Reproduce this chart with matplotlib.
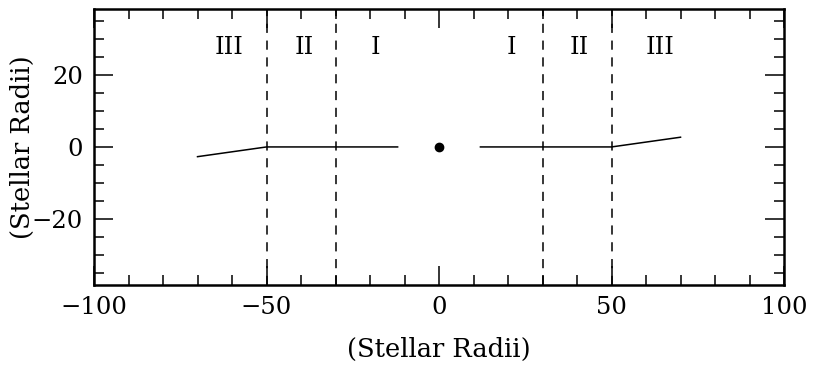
import matplotlib.pyplot as plt
import numpy as np
from matplotlib.ticker import MultipleLocator

# Disk surface profile (x, y in stellar radii)
left_x = [-70, -50, -12]
left_y = [-2.7, 0, 0]
right_x = [12, 50, 70]
right_y = [0, 0, 2.7]

# Zone boundaries and labels
boundaries = [-50, -30, 30, 50]
zone_x = [-61, -39, -18.5, 21, 40.5, 64]
zone_labels = ["III", "II", "I", "I", "II", "III"]
zone_y = 27.5

plt.rcParams['font.family'] = ['DejaVu Serif']

fig = plt.figure(figsize=(8.19, 3.72), dpi=100)
ax = fig.add_axes([0.1148, 0.234, 0.8425, 0.742])

ax.plot(left_x, left_y, color="black", lw=1.1)
ax.plot(right_x, right_y, color="black", lw=1.1)
ax.plot([0], [0], "o", color="black", ms=6)

for b in boundaries:
    ax.axvline(b, color="black", lw=1.1, ls=(0, (6, 5)))

for x, lab in zip(zone_x, zone_labels):
    ax.text(x, zone_y, lab, ha="center", va="center", fontsize=17.5)

ax.set_xlim(-100, 100)
ax.set_ylim(-38.3, 38.3)
ax.xaxis.set_major_locator(MultipleLocator(50))
ax.xaxis.set_minor_locator(MultipleLocator(10))
ax.yaxis.set_major_locator(MultipleLocator(20))
ax.yaxis.set_minor_locator(MultipleLocator(5))
ax.tick_params(which="both", direction="in", top=True, right=True, width=1.1)
ax.tick_params(which="major", length=14, labelsize=17.5, pad=8)
ax.tick_params(which="minor", length=7)
for s in ax.spines.values():
    s.set_linewidth(1.8)

ax.set_xlabel("(Stellar Radii)", fontsize=18.5, labelpad=13)
ax.set_ylabel("(Stellar Radii)", fontsize=18.5, labelpad=-2)

plt.savefig("out.png", dpi=100)
